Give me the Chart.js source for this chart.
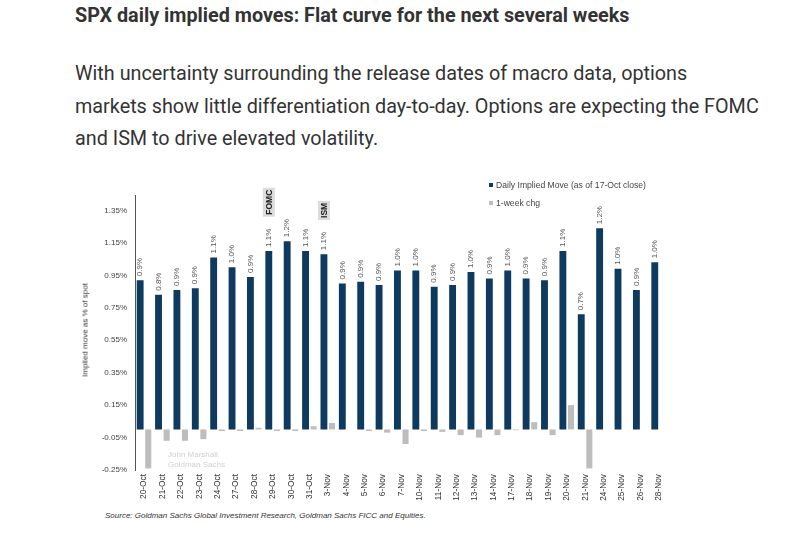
<!DOCTYPE html>
<html>
<head>
<meta charset="utf-8">
<script src="https://cdn.jsdelivr.net/npm/chart.js@4.4.0/dist/chart.umd.min.js"></script>
<style>
  body { margin: 0; width: 810px; height: 538px; background: #fff; position: relative; overflow: hidden; font-family: Roboto, "Liberation Sans", sans-serif; }
  #title { position: absolute; left: 75px; top: 4px; font-size: 19.8px; font-weight: bold; color: #333; }
  #intro { position: absolute; left: 75px; top: 58px; width: 730px; font-size: 19.8px; line-height: 32.5px; color: #333; }
  #chartBox { position: absolute; left: 80px; top: 170px; width: 600px; height: 340px; }
  .legend { position: absolute; left: 489px; font: 8.6px "Liberation Sans", Arial, sans-serif; color: #444; }
  .legend span { display: inline-block; width: 4px; height: 4px; margin-right: 3px; vertical-align: 1px; }
  .wm { position: absolute; left: 168px; font: 8px "Liberation Sans", Arial, sans-serif; color: #cfcfcf; }
  #source { position: absolute; left: 105px; top: 511px; font: italic 8px "Liberation Sans", Arial, sans-serif; color: #333; }
  #yTitle { position: absolute; left: 85px; top: 330px; transform: translate(-50%, -50%) rotate(-90deg); transform-origin: center; white-space: nowrap; font: 8px "Liberation Sans", Arial, sans-serif; color: #333; }
</style>
</head>
<body>
<div id="title">SPX daily implied moves: Flat curve for the next several weeks</div>
<div id="intro">With uncertainty surrounding the release dates of macro data, options<br>markets show little differentiation day-to-day. Options are expecting the FOMC<br>and ISM to drive elevated volatility.</div>
<div id="chartBox"><canvas id="chart"></canvas></div>
<div class="legend" style="top:180px"><span style="background:#0d3a5e"></span>Daily Implied Move (as of 17-Oct close)</div>
<div class="legend" style="top:198px"><span style="background:#bdbdbd"></span>1-week chg</div>
<div class="wm" style="top:450px">John Marshall</div>
<div class="wm" style="top:460px">Goldman Sachs</div>
<div id="yTitle">Implied move as % of spot</div>
<div id="source">Source: Goldman Sachs Global Investment Research, Goldman Sachs FICC and Equities.</div>
<script>
const dates = ['20-Oct', '21-Oct', '22-Oct', '23-Oct', '24-Oct', '27-Oct', '28-Oct', '29-Oct', '30-Oct', '31-Oct',
  '3-Nov', '4-Nov', '5-Nov', '6-Nov', '7-Nov', '10-Nov', '11-Nov', '12-Nov', '13-Nov', '14-Nov',
  '17-Nov', '18-Nov', '19-Nov', '20-Nov', '21-Nov', '24-Nov', '25-Nov', '26-Nov', '28-Nov'];

// daily implied move (% of spot)
const impliedMove = [0.92, 0.83, 0.86, 0.87, 1.06, 1.00, 0.94, 1.10, 1.16, 1.10,
  1.08, 0.90, 0.91, 0.89, 0.98, 0.98, 0.88, 0.89, 0.97, 0.93,
  0.98, 0.93, 0.92, 1.10, 0.71, 1.24, 0.99, 0.86, 1.03];

// 1-week change
const weekChg = [-0.24, -0.07, -0.07, -0.06, -0.01, -0.01, 0.01, -0.01, -0.01, 0.02,
  0.04, 0, -0.01, -0.02, -0.09, -0.01, -0.015, -0.035, -0.05, -0.035,
  -0.005, 0.045, -0.035, 0.15, -0.24, 0, 0, 0, 0];

const yTicks = [-0.25, -0.05, 0.15, 0.35, 0.55, 0.75, 0.95, 1.15, 1.35];

const eventDates = ['29-Oct', '3-Nov'];
const eventNames = ['FOMC', 'ISM'];

const navy = '#0d3a5e';
const grey = '#bdbdbd';

const barLabels = {
  id: 'barLabels',
  afterDatasetsDraw(chart) {
    const ctx = chart.ctx;
    const meta = chart.getDatasetMeta(0);
    ctx.save();
    ctx.font = '8px "Liberation Sans", Arial, sans-serif';
    ctx.fillStyle = '#555';
    ctx.textAlign = 'left';
    ctx.textBaseline = 'middle';
    const labelEnd = [];
    meta.data.forEach((bar, i) => {
      const txt = impliedMove[i].toFixed(1) + '%';
      ctx.save();
      ctx.translate(bar.x, bar.y - 4);
      ctx.rotate(-Math.PI / 2);
      ctx.fillText(txt, 0, 0);
      ctx.restore();
      labelEnd[i] = bar.y - 4 - ctx.measureText(txt).width;
    });

    // event markers (grey box, bold text) above the bars
    ctx.font = 'bold 8.5px "Liberation Sans", Arial, sans-serif';
    eventDates.forEach((d, k) => {
      const i = dates.indexOf(d);
      const bar = meta.data[i];
      const y0 = labelEnd[i] - 14;
      const w = ctx.measureText(eventNames[k]).width;
      ctx.save();
      ctx.translate(bar.x, y0);
      ctx.rotate(-Math.PI / 2);
      ctx.fillStyle = '#dcdcdc';
      ctx.fillRect(-2, -6, w + 4, 12);
      ctx.fillStyle = '#222';
      ctx.fillText(eventNames[k], 0, 0.5);
      ctx.restore();
    });
    ctx.restore();
  }
};

new Chart(document.getElementById('chart'), {
  type: 'bar',
  data: {
    labels: dates,
    datasets: [
      { label: 'Daily Implied Move (as of 17-Oct close)', data: impliedMove, backgroundColor: navy, barPercentage: 0.85, categoryPercentage: 0.88 },
      { label: '1-week chg', data: weekChg, backgroundColor: grey, barPercentage: 0.75, categoryPercentage: 0.88 }
    ]
  },
  options: {
    responsive: true,
    maintainAspectRatio: false,
    animation: false,
    layout: { padding: { top: 25, right: 12, bottom: 0, left: 0 } },
    plugins: { legend: { display: false }, tooltip: { enabled: false } },
    scales: {
      x: {
        grid: { display: false, drawTicks: false },
        border: { display: false },
        afterFit: s => { s.height = 40; },
        ticks: {
          minRotation: 90, maxRotation: 90, autoSkip: false, padding: 4,
          font: { size: 8.3, family: '"Liberation Sans", Arial, sans-serif' }, color: '#333'
        }
      },
      y: {
        min: -0.25,
        max: 1.445,
        afterFit: s => { s.width = 55; },
        afterBuildTicks: s => { s.ticks = yTicks.map(v => ({ value: v })); },
        grid: {
          drawTicks: false,
          color: ctx => (ctx.tick && ctx.tick.value === 0 ? '#d8d8d8' : 'transparent')
        },
        border: { display: true, color: '#555', width: 1 },
        ticks: {
          padding: 8,
          font: { size: 8, family: '"Liberation Sans", Arial, sans-serif' }, color: '#444',
          callback: v => v.toFixed(2) + '%'
        }
      }
    }
  },
  plugins: [barLabels]
});
</script>
</body>
</html>
